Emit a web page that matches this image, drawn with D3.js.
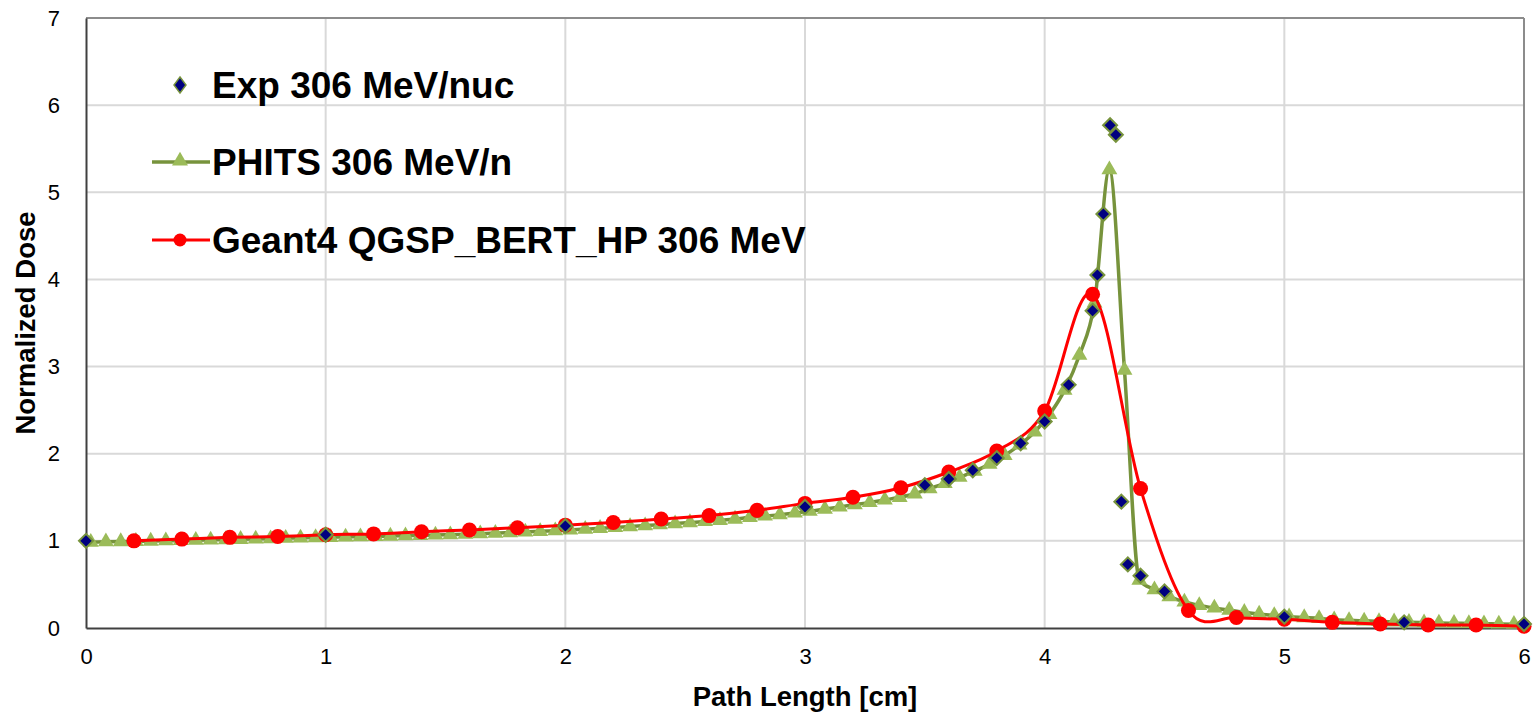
<!DOCTYPE html>
<html>
<head>
<meta charset="utf-8">
<script src="https://cdn.jsdelivr.net/npm/d3@7"></script>
<style>
  html, body { margin: 0; padding: 0; background: #ffffff; }
  svg { display: block; font-family: Arial, "Liberation Sans", sans-serif; }
</style>
</head>
<body>
<svg id="chart" width="1533" height="712"></svg>
<script>
// ---------------- data ----------------
const xTicks = [0, 1, 2, 3, 4, 5, 6];
const yTicks = [0, 1, 2, 3, 4, 5, 6, 7];
const xTitle = "Path Length [cm]";
const yTitle = "Normalized Dose";
const seriesNames = ["Exp 306 MeV/nuc", "PHITS 306 MeV/n", "Geant4 QGSP_BERT_HP 306 MeV"];

// Experimental (diamonds)
const expX = [0, 1, 2, 3, 3.5, 3.6, 3.7, 3.8, 3.9, 4.0, 4.1, 4.2, 4.22, 4.245, 4.273, 4.297, 4.32, 4.347, 4.4, 4.5, 5.0, 5.5, 6.0];
const expY = [1.0, 1.07, 1.17, 1.39, 1.64, 1.71, 1.81, 1.95, 2.12, 2.37, 2.79, 3.64, 4.05, 4.75, 5.77, 5.66, 1.45, 0.73, 0.60, 0.42, 0.13, 0.065, 0.045];

// PHITS (triangles + line)
const phitsX = [0.020, 0.083, 0.145, 0.208, 0.270, 0.333, 0.395, 0.458, 0.520, 0.583,
  0.645, 0.708, 0.770, 0.833, 0.895, 0.958, 1.020, 1.083, 1.145, 1.208,
  1.270, 1.333, 1.395, 1.458, 1.520, 1.583, 1.645, 1.708, 1.770, 1.833,
  1.895, 1.958, 2.020, 2.083, 2.145, 2.208, 2.270, 2.333, 2.395, 2.458,
  2.520, 2.583, 2.645, 2.708, 2.770, 2.833, 2.895, 2.958, 3.020, 3.083,
  3.145, 3.208, 3.270, 3.333, 3.395, 3.458, 3.520, 3.583, 3.645, 3.708,
  3.770, 3.833, 3.895, 3.958, 4.020, 4.083, 4.145, 4.208, 4.270, 4.333,
  4.395, 4.458, 4.520, 4.583, 4.645, 4.708, 4.770, 4.833, 4.895, 4.958,
  5.020, 5.083, 5.145, 5.208, 5.270, 5.333, 5.395, 5.458, 5.520, 5.583,
  5.645, 5.708, 5.770, 5.833, 5.895, 5.958];
const phitsY = [0.985, 0.99, 0.992, 0.995, 0.998, 1.001, 1.004, 1.007, 1.011, 1.015,
  1.018, 1.022, 1.026, 1.030, 1.034, 1.038, 1.041, 1.045, 1.048, 1.052,
  1.055, 1.059, 1.063, 1.067, 1.072, 1.077, 1.083, 1.089, 1.095, 1.102,
  1.109, 1.117, 1.126, 1.135, 1.144, 1.154, 1.164, 1.175, 1.186, 1.198,
  1.210, 1.222, 1.235, 1.250, 1.270, 1.285, 1.300, 1.320, 1.340, 1.365,
  1.390, 1.415, 1.440, 1.470, 1.500, 1.540, 1.600, 1.660, 1.730, 1.800,
  1.880, 1.980, 2.100, 2.250, 2.450, 2.730, 3.130, 3.730, 5.260, 2.960,
  0.550, 0.440, 0.360, 0.300, 0.260, 0.230, 0.205, 0.180, 0.160, 0.145,
  0.130, 0.120, 0.110, 0.095, 0.088, 0.082, 0.076, 0.071, 0.066, 0.062,
  0.058, 0.055, 0.052, 0.049, 0.046, 0.043];

// Geant4 (circles + smoothed line)
const g4X = [0.2, 0.4, 0.6, 0.8, 1.0, 1.2, 1.4, 1.6, 1.8, 2.0, 2.2, 2.4, 2.6, 2.8, 3.0,
  3.2, 3.4, 3.6, 3.8, 4.0, 4.2, 4.4, 4.6, 4.8, 5.0, 5.2, 5.4, 5.6, 5.8, 6.0];
const g4Y = [1.00, 1.02, 1.04, 1.05, 1.07, 1.08, 1.105, 1.125, 1.15, 1.18, 1.21, 1.25, 1.29, 1.35, 1.43,
  1.50, 1.61, 1.79, 2.03, 2.49, 3.83, 1.60, 0.20, 0.12, 0.10, 0.065, 0.046, 0.035, 0.035, 0.02];

// ---------------- layout ----------------
const W = 1533, H = 712;
const margin = { left: 86, right: 9, top: 18, bottom: 84 };
const iw = W - margin.left - margin.right;
const ih = H - margin.top - margin.bottom;

const svg = d3.select("#chart");
const g = svg.append("g").attr("transform", `translate(${margin.left},${margin.top})`);

const x = d3.scaleLinear().domain([0, 6]).range([0, iw]);
const y = d3.scaleLinear().domain([0, 7]).range([ih, 0]);

// grid
g.append("g").selectAll("line.hg").data(yTicks.filter(d => d > 0 && d < 7)).join("line")
  .attr("x1", 0).attr("x2", iw).attr("y1", d => y(d)).attr("y2", d => y(d))
  .attr("stroke", "#d9d9d9").attr("stroke-width", 2);
g.append("g").selectAll("line.vg").data(xTicks.filter(d => d > 0 && d < 6)).join("line")
  .attr("y1", 0).attr("y2", ih).attr("x1", d => x(d)).attr("x2", d => x(d))
  .attr("stroke", "#d9d9d9").attr("stroke-width", 2);

// plot border top/right
g.append("line").attr("x1", 0).attr("x2", iw).attr("y1", 0).attr("y2", 0)
  .attr("stroke", "#8c8c8c").attr("stroke-width", 2);
g.append("line").attr("x1", iw).attr("x2", iw).attr("y1", 0).attr("y2", ih)
  .attr("stroke", "#8c8c8c").attr("stroke-width", 2);

// axes
const xAxis = d3.axisBottom(x).tickValues(xTicks).tickSize(0).tickPadding(20).tickFormat(d3.format("d"));
const yAxis = d3.axisLeft(y).tickValues(yTicks).tickSize(0).tickPadding(26).tickFormat(d3.format("d"));
const gx = g.append("g").attr("transform", `translate(0,${ih})`).call(xAxis);
const gy = g.append("g").call(yAxis);
[gx, gy].forEach(a => {
  a.attr("font-size", 22).attr("font-family", "Arial, 'Liberation Sans', sans-serif");
  a.select(".domain").attr("stroke", "#404040").attr("stroke-width", 2);
  a.selectAll("text").attr("fill", "#000");
});

// axis titles
svg.append("text").attr("x", margin.left + iw / 2).attr("y", 706)
  .attr("text-anchor", "middle").attr("font-size", 27.5).attr("font-weight", "bold").text(xTitle);
svg.append("text").attr("transform", `translate(35,${margin.top + ih / 2}) rotate(-90)`)
  .attr("text-anchor", "middle").attr("font-size", 27.5).attr("font-weight", "bold").text(yTitle);

// ---------------- series ----------------
const phits = phitsX.map((d, i) => [d, phitsY[i]]);
const g4 = g4X.map((d, i) => [d, g4Y[i]]);
const exp = expX.map((d, i) => [d, expY[i]]);

const lineSmooth = d3.line().x(d => x(d[0])).y(d => y(d[1])).curve(d3.curveCardinal.tension(0));
const lineMono = d3.line().x(d => x(d[0])).y(d => y(d[1])).curve(d3.curveMonotoneX);

const plot = g.append("g");
// PHITS
plot.append("path").datum(phits).attr("d", lineMono).attr("fill", "none")
  .attr("stroke", "#77933c").attr("stroke-width", 3.5);
const tri = d3.symbol().type(d3.symbolTriangle).size(110);
plot.append("g").selectAll("path").data(phits).join("path")
  .attr("d", tri).attr("transform", d => `translate(${x(d[0])},${y(d[1])})`)
  .attr("fill", "#9bbb59");

// Geant4
plot.append("path").datum(g4).attr("d", lineSmooth).attr("fill", "none")
  .attr("stroke", "#ff0000").attr("stroke-width", 3);
plot.append("g").selectAll("circle").data(g4).join("circle")
  .attr("cx", d => x(d[0])).attr("cy", d => y(d[1])).attr("r", 7.5).attr("fill", "#ff0000");

// Exp diamonds
const diamond = (cx, cy, hw, hh) => `M${cx},${cy - hh}L${cx + hw},${cy}L${cx},${cy + hh}L${cx - hw},${cy}Z`;
plot.append("g").selectAll("path").data(exp).join("path")
  .attr("d", d => diamond(x(d[0]), y(d[1]), 7, 7))
  .attr("fill", "#000080").attr("stroke", "#77933c").attr("stroke-width", 2);

// ---------------- legend ----------------
const leg = svg.append("g");
const legFont = 37;
// Exp
leg.append("path").attr("d", diamond(180, 85, 6, 8)).attr("fill", "#000080")
  .attr("stroke", "#77933c").attr("stroke-width", 1.5);
leg.append("text").attr("x", 212).attr("y", 98).attr("font-size", legFont)
  .attr("font-weight", "bold").text(seriesNames[0]);
// PHITS
leg.append("line").attr("x1", 152).attr("x2", 210).attr("y1", 162).attr("y2", 162)
  .attr("stroke", "#77933c").attr("stroke-width", 3.5);
leg.append("path").attr("d", d3.symbol().type(d3.symbolTriangle).size(110)())
  .attr("transform", "translate(180,161)").attr("fill", "#9bbb59");
leg.append("text").attr("x", 212).attr("y", 175).attr("font-size", legFont)
  .attr("font-weight", "bold").text(seriesNames[1]);
// Geant4
leg.append("line").attr("x1", 152).attr("x2", 210).attr("y1", 240).attr("y2", 240)
  .attr("stroke", "#ff0000").attr("stroke-width", 3);
leg.append("circle").attr("cx", 180).attr("cy", 240).attr("r", 6.5).attr("fill", "#ff0000");
leg.append("text").attr("x", 212).attr("y", 253).attr("font-size", legFont)
  .attr("font-weight", "bold").text(seriesNames[2]);
</script>
</body>
</html>
